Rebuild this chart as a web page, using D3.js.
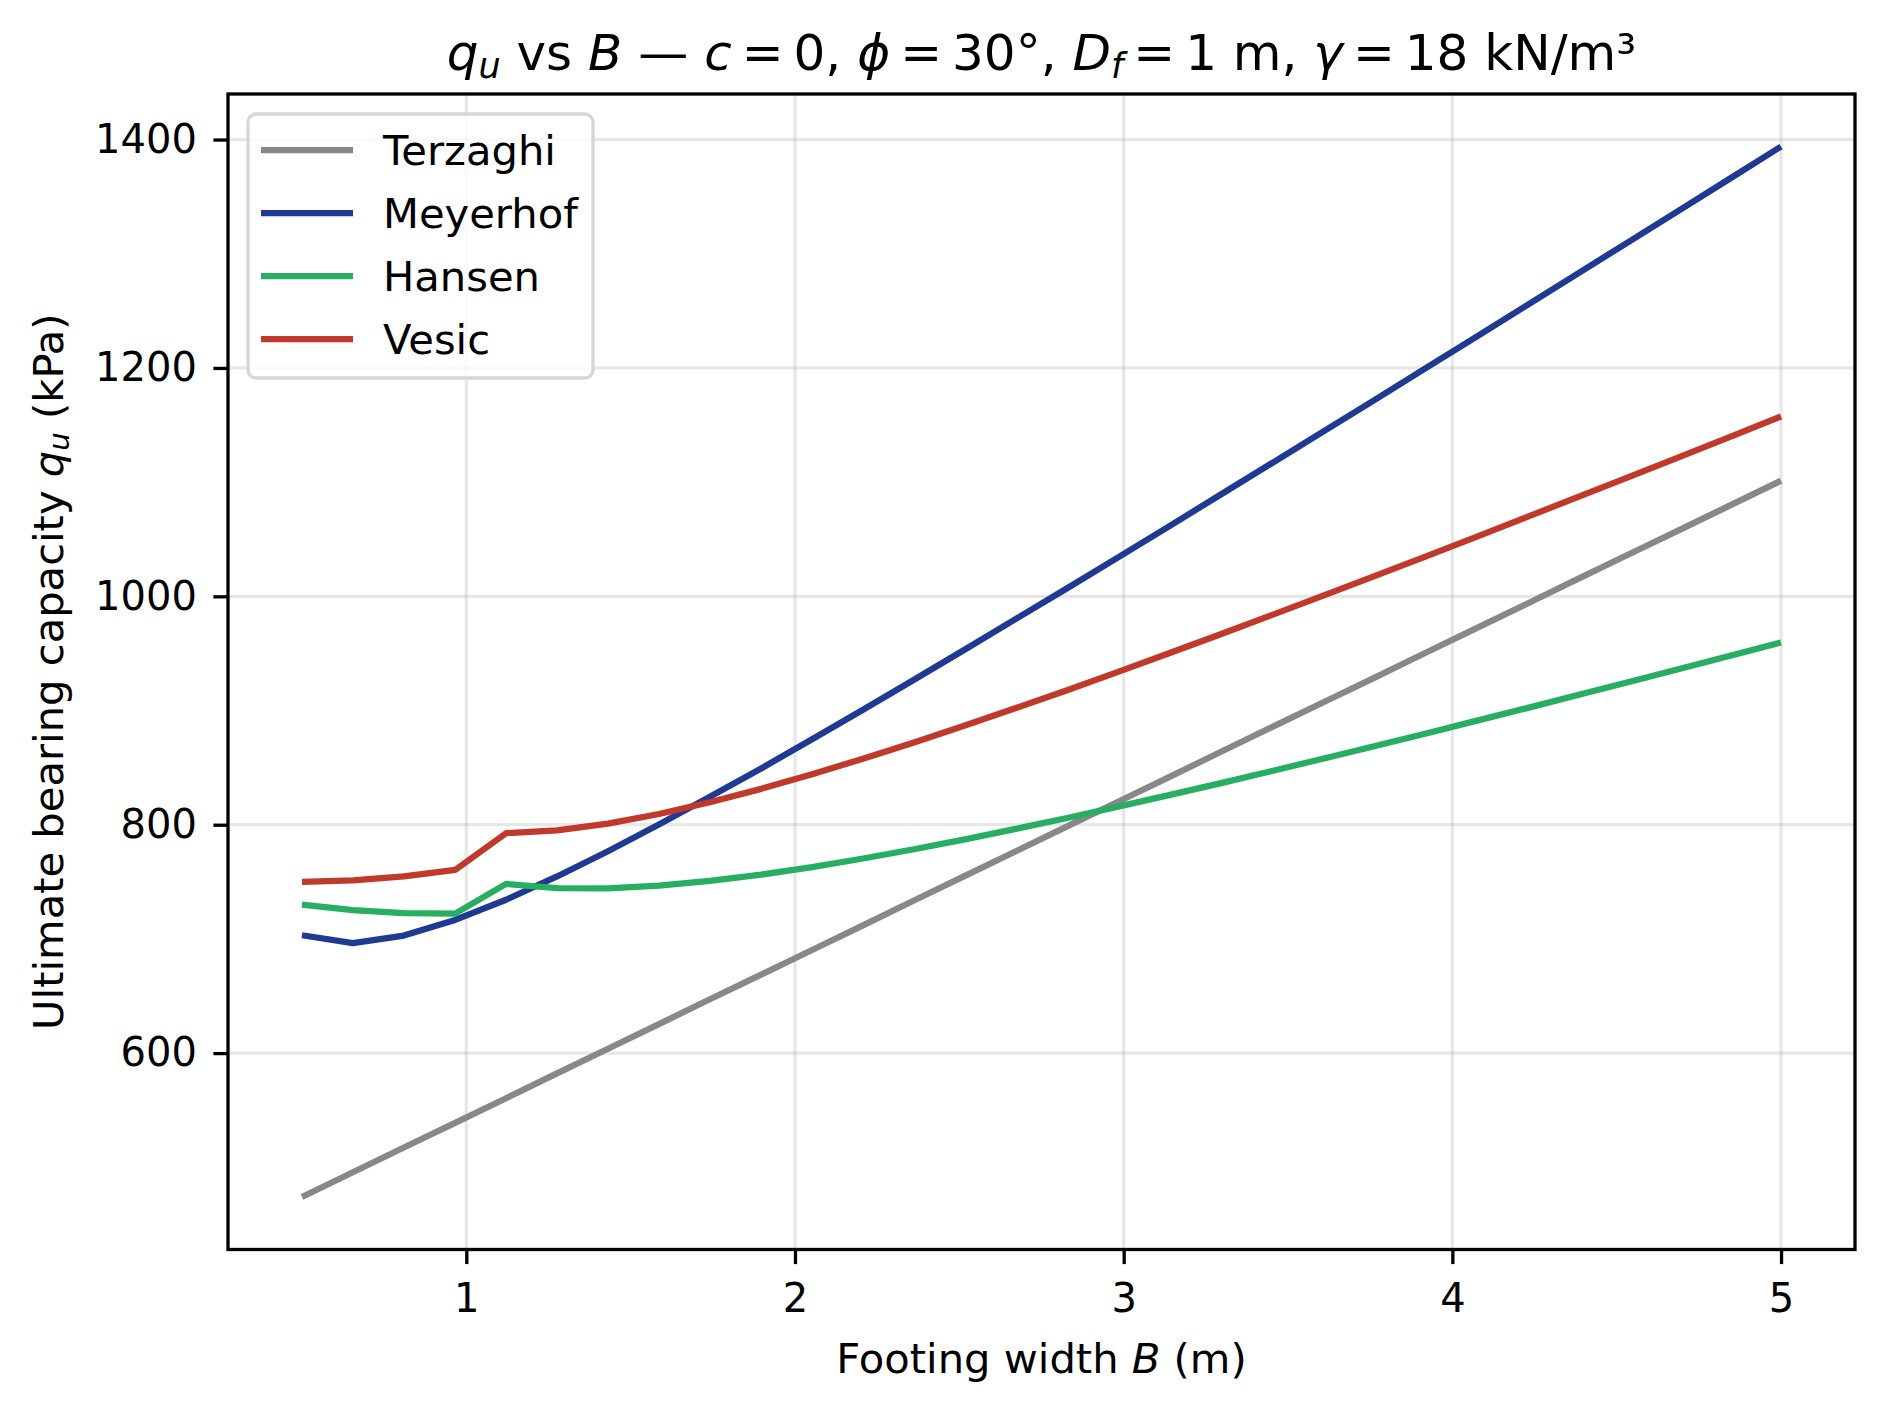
<!DOCTYPE html>
<html>
<head>
<meta charset="utf-8">
<script src="https://cdn.jsdelivr.net/npm/d3@7"></script>
<style>
  body { margin: 0; background: #fff; }
  svg { font-family: "DejaVu Sans", sans-serif; }
</style>
</head>
<body>
<div id="chart"></div>
<script>
// footing width B (m), 30 points from 0.5 to 5
var widths = [0.5, 0.655, 0.810, 0.966, 1.121, 1.276, 1.431, 1.586, 1.741, 1.897,
  2.052, 2.207, 2.362, 2.517, 2.672, 2.828, 2.983, 3.138, 3.293, 3.448,
  3.603, 3.759, 3.914, 4.069, 4.224, 4.379, 4.534, 4.690, 4.845, 5.0];

// ultimate bearing capacity q_u (kPa)
var terzaghi = [474.0, 495.6, 517.3, 538.9, 560.5, 582.2, 603.8, 625.4, 647.1, 668.7,
  690.3, 711.9, 733.6, 755.2, 776.8, 798.5, 820.1, 841.7, 863.4, 885.0,
  906.6, 928.2, 949.9, 971.5, 993.1, 1014.8, 1036.4, 1058.0, 1079.7, 1101.3];
var meyerhof = [703.2, 696.3, 702.9, 716.6, 734.3, 754.7, 776.8, 800.1, 824.4, 849.3,
  874.8, 900.7, 926.9, 953.4, 980.2, 1007.1, 1034.1, 1061.3, 1088.7, 1116.1,
  1143.6, 1171.2, 1198.9, 1226.6, 1254.4, 1282.2, 1310.0, 1337.9, 1365.9, 1393.9];
var hansen = [730.1, 725.2, 722.6, 722.1, 748.2, 744.5, 744.3, 746.6, 750.8, 756.3,
  762.9, 770.4, 778.5, 787.2, 796.4, 805.9, 815.8, 825.9, 836.2, 846.8,
  857.6, 868.5, 879.5, 890.7, 901.9, 913.3, 924.7, 936.3, 947.9, 959.5];
var vesic = [749.9, 751.2, 754.7, 760.4, 792.6, 795.0, 801.0, 809.4, 819.7, 831.4,
  844.2, 857.8, 872.0, 886.9, 902.2, 917.8, 933.8, 950.1, 966.6, 983.3,
  1000.2, 1017.3, 1034.4, 1051.7, 1069.1, 1086.7, 1104.2, 1121.9, 1139.7, 1157.5];

var methods = ["Terzaghi", "Meyerhof", "Hansen", "Vesic"];
var colors = ["#888888", "#1f3a93", "#27ae60", "#c0392b"];
var xTicks = [1, 2, 3, 4, 5];
var yTicks = [600, 800, 1000, 1200, 1400];

var series = [terzaghi, meyerhof, hansen, vesic];

var width = 1885, height = 1413,
    margin = {top: 94, right: 30, bottom: 163.5, left: 228},
    fs = 41.67, tickFs = 40;

var svg = d3.select("#chart")
  .append("svg")
    .attr("width", width)
    .attr("height", height);

// matplotlib style 5% padding around the data
var xExt = d3.extent(widths),
    yExt = d3.extent(d3.merge(series)),
    xPad = (xExt[1] - xExt[0]) * 0.05,
    yPad = (yExt[1] - yExt[0]) * 0.05;

var x = d3.scaleLinear()
    .domain([xExt[0] - xPad, xExt[1] + xPad])
    .range([margin.left, width - margin.right]);

var y = d3.scaleLinear()
    .domain([yExt[0] - yPad, yExt[1] + yPad])
    .range([height - margin.bottom, margin.top]);

var x0 = margin.left, x1 = width - margin.right,
    y0 = height - margin.bottom, y1 = margin.top;

// grid
svg.append("g")
    .attr("stroke", "#b0b0b0")
    .attr("stroke-opacity", 0.3)
    .attr("stroke-width", 3.3)
  .call(function(g) {
    g.selectAll("line.gx").data(xTicks).enter().append("line")
      .attr("x1", function(d) { return x(d); })
      .attr("x2", function(d) { return x(d); })
      .attr("y1", y0).attr("y2", y1);
    g.selectAll("line.gy").data(yTicks).enter().append("line")
      .attr("y1", function(d) { return y(d); })
      .attr("y2", function(d) { return y(d); })
      .attr("x1", x0).attr("x2", x1);
  });

// curves
var line = d3.line()
    .x(function(d, i) { return x(widths[i]); })
    .y(function(d) { return y(d); });

svg.append("g")
    .attr("fill", "none")
    .attr("stroke-width", 6.25)
    .attr("stroke-linejoin", "round")
  .selectAll("path")
  .data(series)
  .enter().append("path")
    .attr("stroke", function(d, i) { return colors[i]; })
    .attr("d", line);

// axes
var xAxis = svg.append("g")
    .attr("transform", "translate(0," + y0 + ")")
    .call(d3.axisBottom(x).tickValues(xTicks).tickSize(14.6).tickPadding(14.6).tickFormat(d3.format("d")));

var yAxis = svg.append("g")
    .attr("transform", "translate(" + x0 + ",0)")
    .call(d3.axisLeft(y).tickValues(yTicks).tickSize(14.6).tickPadding(16.5).tickFormat(d3.format("d")));

[xAxis, yAxis].forEach(function(a) {
  a.select(".domain").remove();
  a.selectAll(".tick line").attr("stroke", "#000").attr("stroke-width", 3.3);
  a.selectAll(".tick text")
    .attr("font-family", "DejaVu Sans")
    .attr("font-size", tickFs)
    .attr("fill", "#000");
});
xAxis.selectAll(".tick text").attr("dy", "0.83em");

// frame
svg.append("rect")
    .attr("x", x0).attr("y", y1)
    .attr("width", x1 - x0).attr("height", y0 - y1)
    .attr("fill", "none")
    .attr("stroke", "#000")
    .attr("stroke-width", 3.3);

// title
var title = svg.append("text")
    .attr("x", (x0 + x1) / 2)
    .attr("y", 70)
    .attr("text-anchor", "middle")
    .attr("font-size", 50);

function piece(t, s, italic, sub) {
  var ts = t.append("tspan").text(s);
  if (italic) ts.attr("font-style", "italic");
  if (sub) ts.attr("font-size", "70%").attr("baseline-shift", "-22%");
  return ts;
}

var eq = "\u2009=\u2009";
piece(title, "q", true);
piece(title, "u", true, true);
piece(title, " vs ");
piece(title, "B", true);
piece(title, " — ");
piece(title, "c", true);
piece(title, eq + "0, ");
piece(title, "ϕ", true);
piece(title, eq + "30°, ");
piece(title, "D", true);
piece(title, "f", true, true);
piece(title, eq + "1 m, ");
piece(title, "γ", true);
piece(title, eq + "18 kN/m³");

// axis labels
var xl = svg.append("text")
    .attr("x", (x0 + x1) / 2)
    .attr("y", 1373)
    .attr("text-anchor", "middle")
    .attr("font-size", fs);
piece(xl, "Footing width ");
piece(xl, "B", true);
piece(xl, " (m)");

var yl = svg.append("text")
    .attr("transform", "translate(63," + ((y0 + y1) / 2) + ") rotate(-90)")
    .attr("text-anchor", "middle")
    .attr("font-size", fs);
piece(yl, "Ultimate bearing capacity ");
piece(yl, "q", true);
piece(yl, "u", true, true);
piece(yl, " (kPa)");

// legend
var legend = svg.append("g");

legend.append("rect")
    .attr("x", 248).attr("y", 114)
    .attr("width", 345).attr("height", 264)
    .attr("rx", 8)
    .attr("fill", "#fff")
    .attr("fill-opacity", 0.8)
    .attr("stroke", "#d6d6d6")
    .attr("stroke-width", 3.3);

var item = legend.selectAll("g.item")
  .data(methods)
  .enter().append("g")
    .attr("class", "item")
    .attr("transform", function(d, i) { return "translate(261," + (150 + i * 63) + ")"; });

item.append("line")
    .attr("x1", 0).attr("x2", 92)
    .attr("stroke", function(d, i) { return colors[i]; })
    .attr("stroke-width", 6.25);

item.append("text")
    .attr("x", 122)
    .attr("dy", "0.36em")
    .attr("font-size", fs)
    .text(function(d) { return d; });
</script>
</body>
</html>
